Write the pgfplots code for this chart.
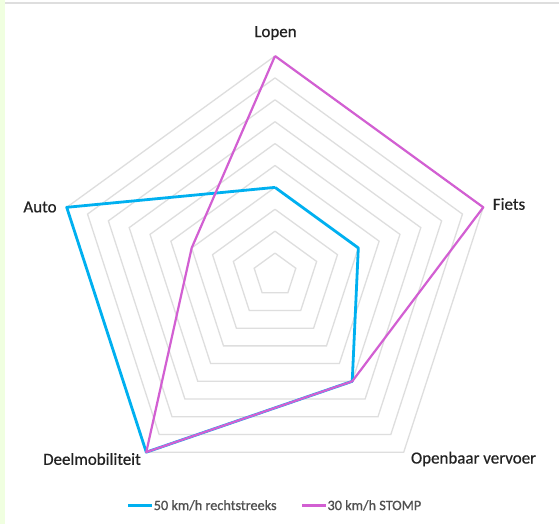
\documentclass[border=0pt]{standalone}
\usepackage{pgfplots}
\pgfplotsset{compat=1.18}
\usepgfplotslibrary{polar}
\usepackage{fontspec}
\setmainfont{Carlito}
\newfontfamily\heavy{Carlito}[FakeBold=0.6]
\newfontfamily\heavyleg{Carlito}[FakeBold=0.9]
\definecolor{sblue}{RGB}{0,176,240}
\definecolor{smag}{RGB}{210,95,210}
\definecolor{gridc}{RGB}{222,222,222}
\definecolor{lbl}{RGB}{34,34,34}
\definecolor{leg}{RGB}{80,80,80}
\begin{document}
\begin{tikzpicture}
\path[use as bounding box, fill=white] (0,0) rectangle (559bp,524bp);
\fill[green!50!yellow!12!white] (0,0) rectangle (5bp,524bp);
\fill[gridc] (5bp,520bp) rectangle (559bp,522bp);
\begin{polaraxis}[
  at={(275bp,249bp)}, anchor=origin,
  scale only axis, width=438bp, height=438bp,
  hide axis, clip=false,
  ymin=0, ymax=10,
  legend columns=2,
  legend style={at={(0.5,-0.027)}, anchor=center, draw=none, fill=none,
    font=\heavyleg\fontsize{14.3}{16}\selectfont\color{leg},
    /tikz/every even column/.append style={column sep=22bp},
    /tikz/every odd column/.append style={column sep=-2bp},
    inner sep=0pt},
  legend image code/.code={\draw[#1, line width=3bp] (0bp,0bp) -- (24bp,0bp);},
]
\pgfplotsinvokeforeach{1,...,10}{
  \addplot[gridc, line width=1.3bp, forget plot] coordinates {(90,#1) (18,#1) (-54,#1) (-126,#1) (162,#1) (90,#1)};
}
\addplot[sblue, line width=2.8bp, line join=round] coordinates {(90,4) (18,4) (-54,6) (-126,10) (162,10) (90,4)};
\addlegendentry{50 km/h rechtstreeks}
\addplot[smag, line width=2.2bp, line join=round] coordinates {(90,10) (18,10) (-54,6) (-126,10) (162,4) (90,10)};
\addlegendentry{30 km/h STOMP}
\end{polaraxis}
\begin{scope}[every node/.style={font=\heavy\fontsize{17}{20}\selectfont, text=lbl, inner sep=0pt}]
\node at (275.5bp,491bp) {Lopen};
\node at (509bp,320bp) {Fiets};
\node at (40bp,317bp) {Auto};
\node at (92bp,65bp) {Deelmobiliteit};
\node at (473.5bp,65bp) {Openbaar vervoer};
\end{scope}
\end{tikzpicture}
\end{document}
